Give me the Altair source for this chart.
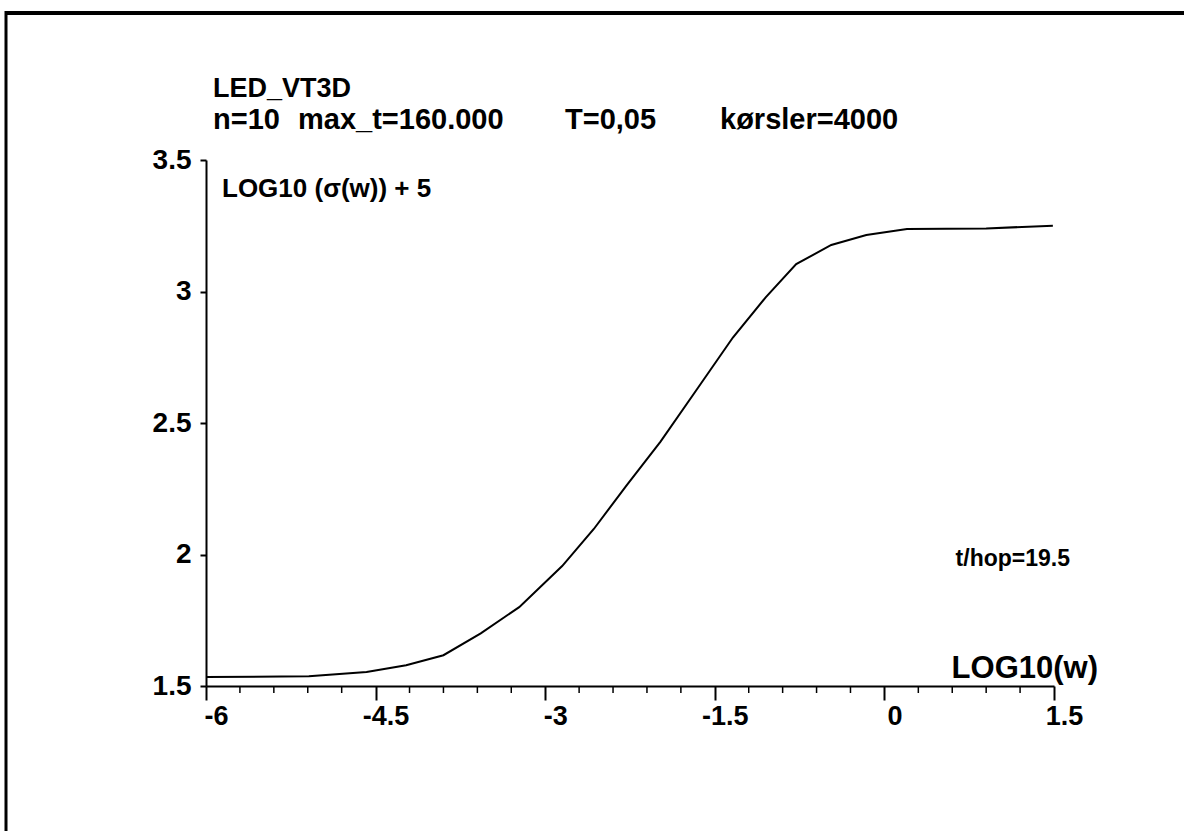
import altair as alt
import pandas as pd

# curve: LOG10(w) vs LOG10(sigma(w)) + 5
log_w = [-6.0, -5.09, -4.58, -4.23, -3.90, -3.57, -3.23, -2.85, -2.57, -2.28,
         -1.98, -1.65, -1.34, -1.05, -0.78, -0.47, -0.16, 0.20, 0.90, 1.49]
log_sigma = [1.534, 1.537, 1.553, 1.579, 1.617, 1.70, 1.80, 1.956, 2.097, 2.263,
             2.429, 2.633, 2.825, 2.978, 3.104, 3.177, 3.215, 3.238, 3.24, 3.25]

x_major = [-6, -4.5, -3, -1.5, 0, 1.5]
x_minor = [-5.7, -5.4, -5.1, -4.8, -4.2, -3.9, -3.6, -3.3, -2.7, -2.4, -2.1, -1.8,
           -1.2, -0.9, -0.6, -0.3, 0.3, 0.6, 0.9, 1.2]
y_major = [1.5, 2, 2.5, 3, 3.5]

header1 = "LED_VT3D"
header2 = ["n=10", "max_t=160.000", "T=0,05", "kørsler=4000"]
y_label = "LOG10 (σ(w)) + 5"
x_label = "LOG10(w)"
note = "t/hop=19.5"

FONT = "Liberation Sans"
W, H = 848, 526

df = pd.DataFrame({"x": log_w, "y": log_sigma})
minor_df = pd.DataFrame({"x": x_minor})

xscale = alt.Scale(domain=[-6, 1.5], nice=False, zero=False)
yscale = alt.Scale(domain=[1.5, 3.5], nice=False, zero=False)

line = alt.Chart(df).mark_line(color="black", strokeWidth=2).encode(
    x=alt.X("x:Q", scale=xscale,
            axis=alt.Axis(values=x_major, title=None, grid=False, tickSize=14,
                          tickWidth=2, domainWidth=2, domainColor="black",
                          tickColor="black", labelFontSize=27,
                          labelFontWeight="bold", labelFont=FONT,
                          labelColor="black", labelPadding=3, labelFlush=False,
                          labelOffset=10,
                          labelExpr="'' + datum.value")),
    y=alt.Y("y:Q", scale=yscale,
            axis=alt.Axis(values=y_major, title=None, grid=False, tickSize=6,
                          tickWidth=2, domainWidth=2, domainColor="black",
                          tickColor="black", labelFontSize=28,
                          labelFontWeight="bold", labelFont=FONT,
                          labelColor="black", labelPadding=9,
                          labelExpr="'' + datum.value")),
)

minor = alt.Chart(minor_df).mark_rule(color="black", strokeWidth=1.5).encode(
    x=alt.X("x:Q", scale=xscale),
    y=alt.value(H),
    y2=alt.value(H + 7),
)


def txt(s, x, y, size, align="left"):
    return alt.Chart(pd.DataFrame({"t": [s]})).mark_text(
        font=FONT, fontWeight="bold", fontSize=size, color="black",
        align=align, baseline="alphabetic"
    ).encode(text="t:N", x=alt.value(x), y=alt.value(y))


texts = [
    txt(header1, 7, -63, 27),
    txt(header2[0], 7, -31, 29),
    txt(header2[1], 92, -31, 29),
    txt(header2[2], 359, -31, 29),
    txt(header2[3], 514, -31, 29),
    txt(y_label, 16, 37, 26),
    txt(note, 864, 406, 23, "right"),
    txt(x_label, 892, 518, 31, "right"),
]

# scanned page frame (top and left edges)
frame_top = alt.Chart(pd.DataFrame({"a": [0]})).mark_rule(color="black", strokeWidth=4).encode(
    x=alt.value(-201), x2=alt.value(990), y=alt.value(-147))
frame_left = alt.Chart(pd.DataFrame({"a": [0]})).mark_rule(color="black", strokeWidth=3).encode(
    x=alt.value(-200), y=alt.value(-149), y2=alt.value(700))

chart = alt.layer(line, minor, *texts, frame_top, frame_left).properties(
    width=W, height=H,
    autosize=alt.AutoSizeParams(type="none"),
    padding={"left": 206, "top": 160, "right": 130, "bottom": 145},
    background="white",
).configure_view(stroke=None)

chart.save("out.html", embed_options={"renderer": "svg", "actions": False})
